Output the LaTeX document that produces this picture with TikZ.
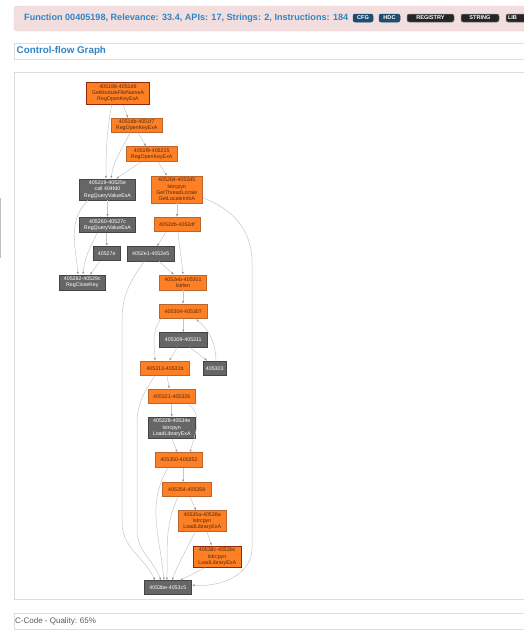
\documentclass[tikz,border=0pt]{standalone}
\usepackage{fontspec}
\setmainfont{Liberation Sans}
\usepackage{tikz}
\usetikzlibrary{positioning,calc}
\usetikzlibrary{arrows.meta}
\definecolor{arancio}{HTML}{FF7F24}
\definecolor{bordoarancio}{HTML}{B8662E}
\definecolor{bordorosso}{HTML}{8E2A0C}
\definecolor{grigio}{HTML}{666666}
\definecolor{bordogrigio}{HTML}{444444}
\definecolor{testoarancio}{HTML}{4A2A14}
\definecolor{linea}{HTML}{C6C6C6}
\definecolor{punta}{HTML}{9A9A9A}
\definecolor{titolo}{HTML}{3184C4}
\definecolor{rosa}{HTML}{F2DEDE}
\definecolor{bordorosa}{HTML}{EBCCD1}
\definecolor{pannello}{HTML}{DDDDDD}
\definecolor{blubadge}{HTML}{1E4D72}
\definecolor{nerobadge}{HTML}{252525}
\tikzstyle{blocco} = [rectangle, inner sep=0pt, minimum width=47.5pt, minimum height=14.5pt,
align=center, font=\fontsize{5.3}{6.3}\selectfont, line width=0.6pt]
\tikzstyle{arancione} = [blocco, fill=arancio, draw=bordoarancio, text=testoarancio]
\tikzstyle{grigia} = [blocco, fill=grigio, draw=bordogrigio, text=white]
\tikzstyle{badge} = [rectangle, rounded corners=2pt, inner sep=0pt, minimum height=8pt,
text=white, font=\fontsize{5.6}{5.6}\selectfont\bfseries, line width=0.5pt]
\tikzstyle{freccia} = [draw=linea, line width=0.5pt, -{Latex[length=2.8pt,width=2.2pt,color=punta]}]

\begin{document}
\begin{tikzpicture}[x=1pt,y=-1pt]
	\useasboundingbox (0,0) rectangle (524,640);
	\clip (0,0) rectangle (524,640);
	% intestazione
	\draw[fill=rosa, draw=bordorosa, rounded corners=3pt] (14,6) rectangle (540,31);
	\node[anchor=west, inner sep=0pt, text=titolo, font=\fontsize{9.1}{10}\selectfont\bfseries] (fn) at (24,18.5)
		{Function 00405198, Relevance: 33.4, APIs: 17, Strings: 2, Instructions: 184};
	\node (cfg) at (363,18) [badge, fill=blubadge, draw=blubadge, minimum width=20pt] {CFG};
	\node (hdc) at (389.5,18) [badge, fill=blubadge, draw=blubadge, minimum width=21pt] {HDC};
	\node (reg) at (430.5,18) [badge, fill=nerobadge, draw=gray, minimum width=47pt] {REGISTRY};
	\node (str) at (480,18) [badge, fill=nerobadge, draw=gray, minimum width=38pt] {STRING};
	\node (lib) at (523,18) [badge, fill=nerobadge, draw=gray, minimum width=34pt, text width=30pt, align=left] {LIB};
	\draw[draw=pannello, fill=white] (14,43) rectangle (540,59);
	\node[anchor=west, inner sep=0pt, text=titolo, font=\fontsize{9.8}{10}\selectfont\bfseries] (cfgtit) at (16.5,51) {Control-flow Graph};
	\draw[draw=pannello] (14,72) rectangle (540,599);
	\draw[draw=pannello] (14,613) rectangle (540,629);
	\node[anchor=west, inner sep=0pt, text=black!65, font=\fontsize{8}{9}\selectfont] (qual) at (15,621) {C-Code - Quality: 65\%};
	\draw[draw=black!25, line width=0.8pt] (0.4,198) -- (0.4,258);

	% blocchi
	\node (b1) at (118,93.3) [arancione, draw=bordorosso, minimum width=62.6pt, minimum height=22pt] {405198-4051d9\\GetModuleFileNameA\\RegOpenKeyExA};
	\node (b2) at (136.7,125.3) [arancione, minimum width=51.3pt, minimum height=14pt] {4051db-4051f7\\RegOpenKeyExA};
	\node (b3) at (151.7,154.2) [arancione, minimum width=51.3pt, minimum height=15pt] {4051f9-405215\\RegOpenKeyExA};
	\node (b4) at (107.5,189.5) [grigia, minimum width=56.4pt, minimum height=21pt] {405219-40525e\\call 404fd0\\RegQueryValueExA};
	\node (b5) at (176.8,189.5) [arancione, minimum width=51.7pt, minimum height=27pt] {405264-4052d5\\lstrcpyn\\GetThreadLocale\\GetLocaleInfoA};
	\node (b6) at (107.5,225) [grigia, minimum width=56.4pt, minimum height=15.4pt] {405260-40527c\\RegQueryValueExA};
	\node (b7) at (106.7,253.5) [grigia, minimum width=26.7pt] {40527e};
	\node (b8) at (82.3,282.5) [grigia, minimum width=46.7pt, minimum height=15pt] {405282-40529c\\RegCloseKey};
	\node (b9) at (177,224.5) [arancione, minimum width=46pt] {4052db-4052df};
	\node (b10) at (150.7,253.8) [grigia, minimum width=46.7pt] {4052e1-4052e5};
	\node (b11) at (183,282.5) [arancione, minimum height=15pt] {4052eb-405301\\lstrlen};
	\node (b12) at (183.3,311.5) [arancione, minimum width=48pt] {405304-405307};
	\node (b13) at (183.3,340) [grigia, minimum width=48pt] {405309-405311};
	\node (b14) at (165,368.3) [arancione, minimum width=48.6pt] {405313-40531b};
	\node (b15) at (214.7,368.3) [grigia, minimum width=22.7pt] {405303};
	\node (b16) at (171.7,396.2) [arancione, minimum width=46.7pt] {405321-405326};
	\node (b17) at (171.7,427.8) [grigia, minimum width=46.7pt, minimum height=21pt] {405328-40534e\\lstrcpyn\\LoadLibraryExA};
	\node (b18) at (179,460) [arancione] {405350-405352};
	\node (b19) at (186.8,489.7) [arancione, minimum width=48.3pt, minimum height=14pt] {405354-405358};
	\node (b20) at (202.2,521.2) [arancione, minimum height=21pt] {40535a-40538a\\lstrcpyn\\LoadLibraryExA};
	\node (b21) at (217.2,556.7) [arancione, draw=bordorosso, minimum height=21.3pt] {40538c-4053bc\\lstrcpyn\\LoadLibraryExA};
	\node (b22) at (167.8,587.5) [grigia, minimum height=13.6pt] {4053be-4053c5};

	% archi
	\draw[freccia] ([xshift=5pt]b1.south) -- ([xshift=-8.7pt]b2.north);
	\draw[freccia] ([xshift=-6.3pt]b1.south) to[out=-100,in=90] ([xshift=-1.5pt]b4.north);
	\draw[freccia] ([xshift=1.3pt]b2.south) -- ([xshift=-5.7pt]b3.north);
	\draw[freccia] ([xshift=-6.7pt]b2.south) to[out=-115,in=82] ([xshift=3.5pt]b4.north);
	\draw[freccia] ([xshift=-10.7pt]b3.south) -- ([xshift=8.5pt]b4.north);
	\draw[freccia] ([xshift=6.3pt]b3.south) -- ([xshift=-9.8pt]b5.north);
	\draw[freccia] (b4.south) -- (b6.north);
	\draw[freccia] ([xshift=-19.5pt]b4.south) to[out=-135,in=95] ([xshift=-4.3pt]b8.north);
	\draw[freccia] ([xshift=-0.8pt]b6.south) -- (b7.north);
	\draw[freccia] ([xshift=-10.5pt]b6.south) to[out=-115,in=85] ([xshift=0.7pt]b8.north);
	\draw[freccia] ([xshift=-6.7pt]b7.south) -- ([xshift=7.7pt]b8.north);
	\draw[freccia] ([xshift=0.2pt]b5.south) -- (b9.north);
	\draw[freccia] ([yshift=-8.5pt]b5.east) to[out=-20,in=90] (252,262) -- (252,548) to[out=-90,in=-5] ([yshift=2.5pt]b22.east);
	\draw[freccia] ([xshift=-11pt]b9.south) -- ([xshift=6.3pt]b10.north);
	\draw[freccia] ([xshift=1pt]b9.south) to[out=-85,in=95] (b11.north);
	\draw[freccia] ([xshift=8.3pt]b10.south) -- ([xshift=-9pt]b11.north);
	\draw[freccia] ([xshift=-6.5pt]b10.south) to[out=-125,in=90] (122,320) -- (122,522) to[out=-90,in=115] ([xshift=-12.8pt]b22.north);
	\draw[freccia] (b11.south) -- (b11.south |- b12.north);
	\draw[freccia] (b12.south) -- (b13.north);
	\draw[freccia] ([xshift=-22.6pt]b12.south) to[out=-125,in=92] ([xshift=-10pt]b14.north);
	\draw[freccia] ([xshift=-6.3pt]b13.south) -- ([xshift=4.3pt]b14.north);
	\draw[freccia] ([xshift=6.7pt]b13.south) -- ([xshift=-7.4pt]b15.north);
	\draw[freccia] ([xshift=1.3pt]b15.north) to[out=92,in=-40] ([xshift=12.7pt]b12.south);
	\draw[freccia] ([xshift=2pt]b14.south) -- ([xshift=-2.4pt]b16.north);
	\draw[freccia] ([xshift=-10pt]b14.south) to[out=-125,in=90] (137,425) -- (137,530) to[out=-90,in=110] ([xshift=-6.8pt]b22.north);
	\draw[freccia] (b16.south) -- (b17.north);
	\draw[freccia] ([xshift=16.3pt]b16.south) to[out=-35,in=75] ([xshift=11pt]b18.north);
	\draw[freccia] ([xshift=0.3pt]b17.south) -- ([xshift=-1.7pt]b18.north);
	\draw[freccia] ([xshift=-11pt]b18.south) to[out=-120,in=95] ([xshift=-3.8pt]b22.north);
	\draw[freccia] ([xshift=4pt]b18.south) -- ([xshift=-3.8pt]b19.north);
	\draw[freccia] ([xshift=3.2pt]b19.south) -- ([xshift=-6.2pt]b20.north);
	\draw[freccia] ([xshift=-8.8pt]b19.south) to[out=-115,in=88] ([xshift=-1pt]b22.north);
	\draw[freccia] ([xshift=4.8pt]b20.south) -- ([xshift=-5.5pt]b21.north);
	\draw[freccia] ([xshift=-7.2pt]b20.south) to[out=-115,in=70] ([xshift=4.2pt]b22.north);
	\draw[freccia] ([xshift=-12.2pt]b21.south) -- ([xshift=12.2pt]b22.north);
\end{tikzpicture}
\end{document}
